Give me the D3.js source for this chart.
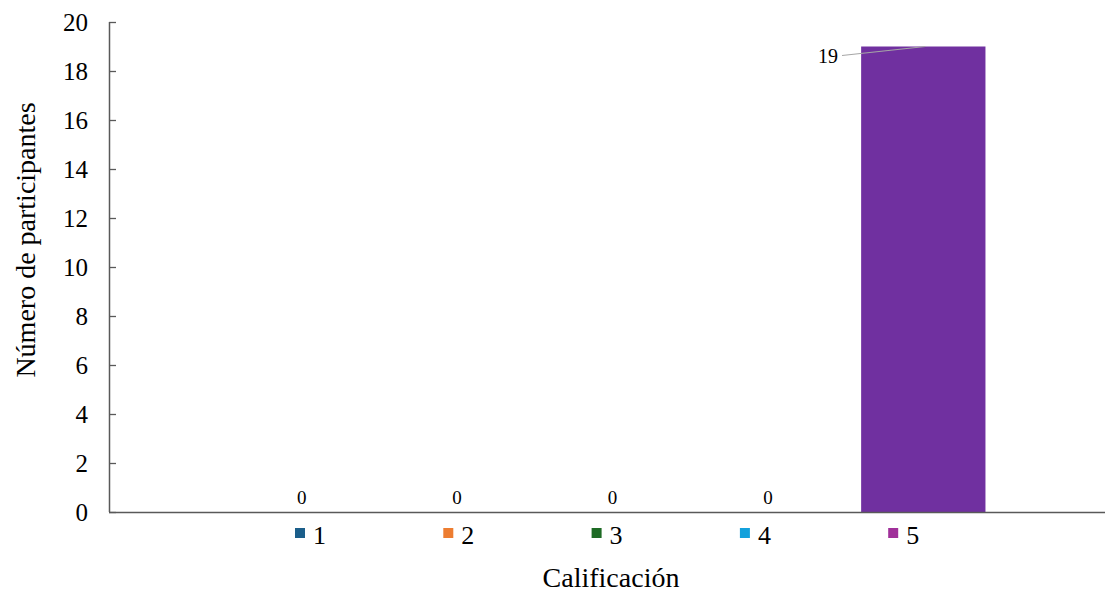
<!DOCTYPE html>
<html><head><meta charset="utf-8">
<script src="https://cdn.jsdelivr.net/npm/d3@7"></script>
<style>body{margin:0;background:#fff}svg{display:block}text{font-family:"Liberation Serif","Times New Roman",serif;fill:#000}</style>
</head><body><svg id="c" width="1105" height="592"></svg>
<script>
const categories = ["1","2","3","4","5"];
const values = [0,0,0,0,19];
const barColors = ["#1B5E8A","#ED7D31","#1E6B25","#13A1DC","#7030A0"];
const legendColors = ["#1B5E8A","#ED7D31","#1E6B25","#13A1DC","#A0309A"];
const yTicks = [0,2,4,6,8,10,12,14,16,18,20];

(function(){
const svg = d3.select("#c");
const pL = 109, pR = 1105, pT = 22, pB = 512;
const y = d3.scaleLinear().domain([0,20]).range([pB, pT]);
const x = d3.scaleBand().domain(categories).range([224, 1001]).padding(0);
const bw = x.bandwidth()*0.8;

svg.selectAll("rect.bar").data(categories).enter().append("rect")
  .attr("class","bar")
  .attr("x", d => x(d) + (x.bandwidth()-bw)/2)
  .attr("y", (d,i) => y(values[i]))
  .attr("width", bw)
  .attr("height", (d,i) => pB - y(values[i]))
  .attr("fill", (d,i) => barColors[i]);

const yAxis = d3.axisRight(y).tickValues(yTicks).tickSize(7).tickFormat(d3.format("d"));
const ga = svg.append("g").attr("transform", `translate(${pL},0)`).call(yAxis);
ga.attr("font-family", null).attr("font-size", null);
ga.select(".domain").attr("stroke","#595959").attr("stroke-width",1.5).attr("d",`M0.5,${pT}V${pB}`);
ga.selectAll(".tick line").attr("stroke","#595959").attr("stroke-width",1.3);
ga.selectAll(".tick text").attr("x",-21).attr("text-anchor","end").attr("dy","0.33em")
  .style("font-size","25px").attr("fill","#000");

svg.append("line").attr("x1",pL).attr("x2",pR).attr("y1",pB+0.5).attr("y2",pB+0.5)
  .attr("stroke","#595959").attr("stroke-width",1.5);

categories.forEach((c,i) => {
  if (values[i] === 0) {
    svg.append("text").attr("x", x(c)+x.bandwidth()/2).attr("y", pB-8)
      .attr("text-anchor","middle").style("font-size","19px").text(values[i]);
  } else {
    const cx = x(c)+x.bandwidth()/2;
    const ty = y(values[i]);
    svg.append("line").attr("x1", 842).attr("y1", ty+9).attr("x2", cx+2).attr("y2", ty)
      .attr("stroke","#A6A6A6").attr("stroke-width",1.2);
    svg.append("text").attr("x", 838).attr("y", ty+16).attr("text-anchor","end")
      .style("font-size","20px").text(values[i]);
  }
});

const legStep = 148.3, legStart = 295;
categories.forEach((c,i) => {
  const gx = legStart + i*legStep;
  svg.append("rect").attr("x", gx).attr("y", 528).attr("width", 10).attr("height", 10).attr("fill", legendColors[i]);
  svg.append("text").attr("x", gx+18).attr("y", 544).style("font-size","26px").text(c);
});

svg.append("text").attr("x", 611).attr("y", 587).attr("text-anchor","middle")
  .style("font-size","28px").text("Calificación");
svg.append("text").attr("transform","translate(35,240) rotate(-90)").attr("text-anchor","middle")
  .style("font-size","28px").text("Número de participantes");
})();
</script></body></html>
